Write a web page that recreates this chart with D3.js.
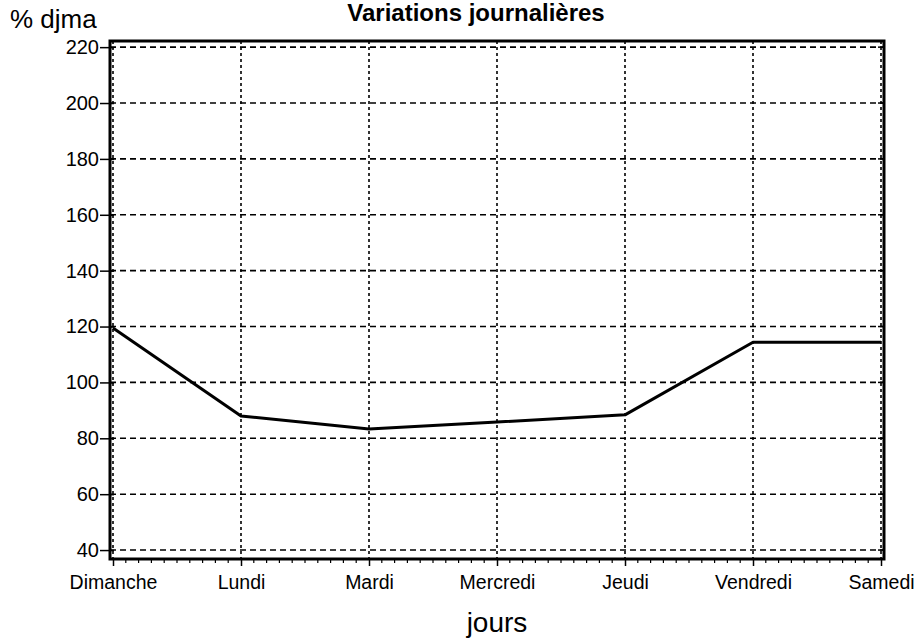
<!DOCTYPE html>
<html>
<head>
<meta charset="utf-8">
<script src="https://cdn.jsdelivr.net/npm/d3@7"></script>
<style>
	body { margin: 0; background: #fff; }
	text { font-family: 'Liberation Sans', Arial, Helvetica, sans-serif; fill: #000; }
</style>
</head>
<body>
<script>
const days = ['Dimanche', 'Lundi', 'Mardi', 'Mercredi', 'Jeudi', 'Vendredi', 'Samedi'];
const values = [119.5, 88, 83.3, 85.8, 88.4, 114.4, 114.4];
const yTicks = [40, 60, 80, 100, 120, 140, 160, 180, 200, 220];

const margin = {
	top: 41,
	bottom: 80,
	left: 110,
	right: 32
}

const fullWidth = 916;
const fullHeight = 639;
const width = fullWidth - margin.left - margin.right;
const height = fullHeight - margin.top - margin.bottom;

const svg = d3.select('body').append('svg')
	.attr('width', fullWidth)
	.attr('height', fullHeight)

const g = svg.append('g')
	.attr('transform', 'translate(' + margin.left + ',' + margin.top + ')');

const xScale = d3.scalePoint().domain(days).range([3, width - 3]);
const yScale = d3.scaleLinear().domain([36.8, 222.2]).range([height, 0]);

// dashed grid
g.append('g')
	.selectAll('line')
	.data(yTicks)
	.enter().append('line')
	.attr('x1', 0)
	.attr('x2', width)
	.attr('y1', d => yScale(d))
	.attr('y2', d => yScale(d))
	.attr('stroke', '#000')
	.attr('stroke-width', 1.6)
	.attr('stroke-dasharray', '6,4');

g.append('g')
	.selectAll('line')
	.data(days)
	.enter().append('line')
	.attr('x1', d => xScale(d))
	.attr('x2', d => xScale(d))
	.attr('y1', 0)
	.attr('y2', height)
	.attr('stroke', '#000')
	.attr('stroke-width', 1.6)
	.attr('stroke-dasharray', '3,3');

// minor ticks on x axis
const step = xScale.step();
const minor = [];
for (let i = 0; i < days.length - 1; i++) {
	for (let k = 1; k < 10; k++) minor.push(xScale(days[i]) + step * k / 10);
}
g.append('g')
	.selectAll('line')
	.data(minor)
	.enter().append('line')
	.attr('x1', d => d)
	.attr('x2', d => d)
	.attr('y1', height)
	.attr('y2', height + 4)
	.attr('stroke', '#000')
	.attr('stroke-width', 1.2);

// x axis
const xAxis = d3.axisBottom(xScale).tickSize(7).tickPadding(11);
const gx = g.append('g')
	.attr('class', 'x axis')
	.attr('transform', 'translate(0,' + height + ')')
	.call(xAxis);
gx.select('.domain').remove();
gx.selectAll('line').attr('stroke-width', 1.5);
gx.selectAll('text')
	.style('font-size', '19.5px')
	.attr('dy', '0.64em');

// y axis
const yAxis = d3.axisLeft(yScale).tickValues(yTicks).tickSize(10).tickPadding(1);
const gy = g.append('g')
	.attr('class', 'y axis')
	.call(yAxis);
gy.select('.domain').remove();
gy.selectAll('line').attr('stroke-width', 1.5).attr('x2', -10).attr('x1', 4);
gy.selectAll('text').style('font-size', '20px');

// right side ticks
g.append('g')
	.selectAll('line')
	.data(yTicks)
	.enter().append('line')
	.attr('x1', width - 6)
	.attr('x2', width)
	.attr('y1', d => yScale(d))
	.attr('y2', d => yScale(d))
	.attr('stroke', '#000')
	.attr('stroke-width', 1.5);

// frame
g.append('rect')
	.attr('x', 0)
	.attr('y', 0)
	.attr('width', width)
	.attr('height', height)
	.attr('fill', 'none')
	.attr('stroke', '#000')
	.attr('stroke-width', 3);

// data line
const line = d3.line()
	.x((d, i) => xScale(days[i]))
	.y(d => yScale(d));

g.append('path')
	.datum(values)
	.attr('d', line)
	.attr('fill', 'none')
	.attr('stroke', '#000')
	.attr('stroke-width', 3)
	.attr('stroke-linejoin', 'round');

// labels
svg.append('text')
	.attr('x', 476)
	.attr('y', 21)
	.style('text-anchor', 'middle')
	.style('font-size', '24px')
	.style('font-weight', 'bold')
	.text('Variations journalières');

svg.append('text')
	.attr('x', 10)
	.attr('y', 28)
	.style('font-size', '26px')
	.text('% djma');

svg.append('text')
	.attr('x', margin.left + width / 2)
	.attr('y', 632)
	.style('text-anchor', 'middle')
	.style('font-size', '28px')
	.text('jours');
</script>
</body>
</html>
